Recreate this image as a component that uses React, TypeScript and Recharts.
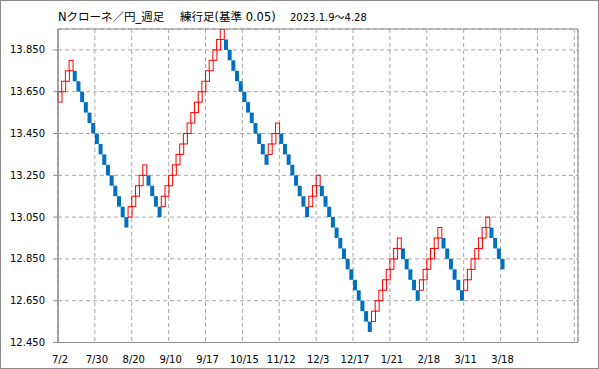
import React from 'react';
import {
  BarChart,
  Bar,
  XAxis,
  YAxis,
  CartesianGrid,
  ReferenceArea,
} from 'recharts';

// renko brick closes, one per column (brick size 0.05)
const brickCloses = [
  13.65, 13.70, 13.75, 13.80,
  13.70, 13.65, 13.60, 13.55, 13.50, 13.45, 13.40, 13.35, 13.30, 13.25, 13.20, 13.15, 13.10, 13.05, 13.00,
  13.10, 13.15, 13.20, 13.25, 13.30,
  13.20, 13.15, 13.10, 13.05,
  13.15, 13.20, 13.25, 13.30, 13.35, 13.40, 13.45, 13.50, 13.55, 13.60, 13.65, 13.70, 13.75, 13.80, 13.85, 13.90, 13.95,
  13.85, 13.80, 13.75, 13.70, 13.65, 13.60, 13.55, 13.50, 13.45, 13.40, 13.35, 13.30,
  13.40, 13.45, 13.50,
  13.40, 13.35, 13.30, 13.25, 13.20, 13.15, 13.10, 13.05,
  13.15, 13.20, 13.25,
  13.15, 13.10, 13.05, 13.00, 12.95, 12.90, 12.85, 12.80, 12.75, 12.70, 12.65, 12.60, 12.55, 12.50,
  12.60, 12.65, 12.70, 12.75, 12.80, 12.85, 12.90, 12.95,
  12.85, 12.80, 12.75, 12.70, 12.65,
  12.75, 12.80, 12.85, 12.90, 12.95, 13.00,
  12.90, 12.85, 12.80, 12.75, 12.70, 12.65,
  12.75, 12.80, 12.85, 12.90, 12.95, 13.00, 13.05,
  12.95, 12.90, 12.85, 12.80,
];

const BRICK = 0.05;
const SLOTS = 141;

const xTicks = [0, 10, 20, 30, 40, 50, 60, 70, 80, 90, 100, 110, 120, 130, 140];
const xTickLabels = ['7/2', '7/30', '8/20', '9/10', '9/17', '10/15', '11/12', '12/3', '12/17', '1/21', '2/18', '3/11', '3/18', '', ''];
const yTicks = [12.45, 12.65, 12.85, 13.05, 13.25, 13.45, 13.65, 13.85];

const UP = '#ff0000';
const DOWN = '#0070c0';
const GRAY = '#8c8c8c';
const FONT = "'DejaVu Sans', 'Noto Sans CJK JP', sans-serif";

const rows = Array.from({ length: SLOTS }, (_, i) => {
  const close = brickCloses[i];
  if (close === undefined) return { i, range: null, up: false };
  const prev = i > 0 ? brickCloses[i - 1] : close - BRICK;
  const up = close > prev;
  return { i, range: up ? [close - BRICK, close] : [close, close + BRICK], up };
});

const XTick = (props: any) => {
  const { x, payload } = props;
  const label = xTickLabels[xTicks.indexOf(payload.value)] ?? '';
  return (
    <text x={x + 2} y={363} textAnchor="middle" fontSize={10} fontFamily={FONT} fill="#000">
      {label}
    </text>
  );
};

const Brick = (props: any) => {
  const { x, y, width, height, background, payload } = props;
  if (!payload || !payload.range) return null;
  const bx = background && background.width ? background.x : x;
  const bw = background && background.width ? background.width : width;
  const top = height < 0 ? y + height : y;
  const h = Math.abs(height);
  if (payload.up) {
    return <rect x={bx} y={top} width={bw} height={h} fill="none" stroke={UP} strokeWidth={1} />;
  }
  return <rect x={bx} y={top} width={bw} height={h} fill={DOWN} />;
};

const App: React.FC = () => {
  return (
    <div style={{ position: 'absolute', left: 0, top: 0, width: 599, height: 369, background: '#fff' }}>
      <BarChart
        width={599}
        height={369}
        data={rows}
        margin={{ top: 29, right: 21, bottom: 0, left: 0 }}
        barCategoryGap={0}
        barGap={0}
      >
        <XAxis xAxisId="cat" dataKey="i" type="category" hide />
        <XAxis
          xAxisId="num"
          dataKey="i"
          type="number"
          domain={[0, SLOTS]}
          ticks={xTicks}
          allowDataOverflow
          height={26.5}
          tickSize={4}
          tickMargin={0}
          stroke={GRAY}
          tickLine={{ stroke: GRAY }}
          axisLine={{ stroke: GRAY }}
          tick={<XTick />}
        />
        <YAxis
          domain={[12.45, 13.95]}
          ticks={yTicks}
          allowDataOverflow
          width={58}
          tickSize={5}
          tickMargin={8}
          stroke={GRAY}
          tickLine={{ stroke: GRAY }}
          axisLine={{ stroke: GRAY }}
          tick={{ fill: '#000', fontSize: 10, fontFamily: FONT }}
          tickFormatter={(v: number) => v.toFixed(3)}
        />
        <CartesianGrid xAxisId="num" stroke="#a6a6a6" strokeDasharray="4 3" />
        <ReferenceArea
          xAxisId="num"
          x1={0}
          x2={SLOTS}
          y1={12.45}
          y2={13.95}
          fill="none"
          fillOpacity={0}
          stroke={GRAY}
          strokeOpacity={1}
          ifOverflow="visible"
        />
        <Bar xAxisId="cat" dataKey="range" shape={<Brick />} isAnimationActive={false} />
      </BarChart>
      <svg
        width={599}
        height={30}
        style={{ position: 'absolute', left: 0, top: 0, pointerEvents: 'none' }}
      >
        <text x={58} y={21} fontSize={11.5} fontFamily={FONT} fill="#000">Nクローネ／円_週足</text>
        <text x={180} y={21} fontSize={11.5} fontFamily={FONT} fill="#000">練行足(基準 0.05)</text>
        <text x={290} y={21} fontSize={10} fontFamily={FONT} fill="#000">2023.1.9～4.28</text>
      </svg>
      <div
        style={{
          position: 'absolute',
          inset: 0,
          border: `1px solid ${GRAY}`,
          pointerEvents: 'none',
        }}
      />
    </div>
  );
};

export default App;
